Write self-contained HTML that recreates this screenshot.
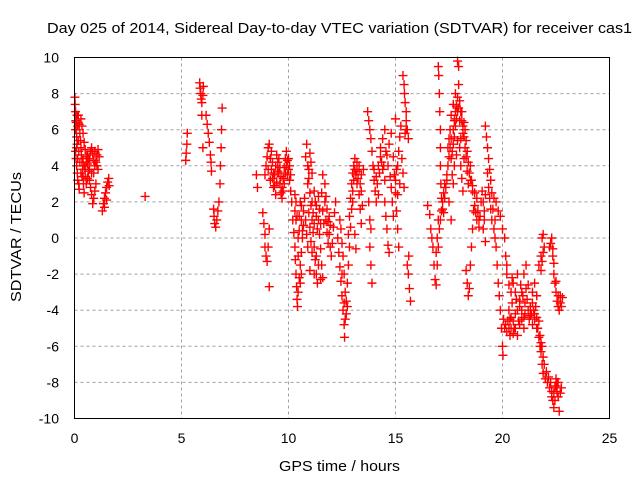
<!DOCTYPE html>
<html><head><meta charset="utf-8"><style>
body{margin:0;background:#fff;}
svg{display:block;font-family:"Liberation Sans",sans-serif;}
</style></head><body>
<svg id="chart" width="640" height="480" viewBox="0 0 640 480">
<rect width="640" height="480" fill="#fff"/>
<text x="47" y="33" font-size="15" textLength="585" lengthAdjust="spacingAndGlyphs">Day 025 of 2014, Sidereal Day-to-day VTEC variation (SDTVAR) for receiver cas1</text>
<text transform="translate(21,302) rotate(-90)" font-size="15" textLength="130" lengthAdjust="spacingAndGlyphs">SDTVAR / TECUs</text>
<text x="279" y="471" font-size="15" textLength="121" lengthAdjust="spacingAndGlyphs">GPS time / hours</text>
<g id="grid"></g>
<g id="ticks"></g>
<g id="points"></g>
<rect x="74.5" y="57.5" width="535" height="361" fill="none" stroke="#000" stroke-width="1"/>
</svg>
<script>
const xTicks=[0,5,10,15,20,25];
const yTicks=[-10,-8,-6,-4,-2,0,2,4,6,8,10];
const times=[0.02,0.03,0.05,0.06,0.08,0.1,0.12,0.05,0.07,0.1,0.13,0.15,0.2,0.22,0.18,0.22,0.25,0.28,0.3,0.32,0.35,0.38,0.4,0.42,0.45,0.3,0.35,0.4,0.45,0.5,0.55,0.6,0.65,0.7,0.75,0.8,0.85,0.9,0.95,1.0,0.7,0.75,0.8,0.85,0.9,0.95,1.0,1.05,1.1,1.15,0.6,0.55,0.5,
1.3,1.35,1.4,1.45,1.5,1.55,1.6,1.62,1.4,1.5,3.3,
5.2,5.22,5.25,5.27,5.85,5.87,5.9,5.92,5.95,6.0,6.02,5.95,6.0,
6.15,6.2,6.25,6.3,6.35,6.38,6.4,6.5,6.52,6.55,6.6,6.65,6.7,6.75,6.8,6.82,6.85,6.87,6.9,
8.5,8.55,8.8,8.85,8.9,8.9,8.95,9.0,9.05,9.1,9.1,8.9,8.95,9.0,9.05,9.1,9.15,9.2,9.25,9.3,9.35,9.4,9.45,9.5,9.55,9.6,9.65,9.7,9.75,9.8,9.85,9.9,9.95,10.0,10.05,10.1,10.15,
10.2,10.25,10.3,10.32,10.35,10.38,10.4,10.42,10.45,10.5,10.55,10.6,10.65,10.7,10.3,10.35,10.4,10.5,10.6,
10.8,10.85,10.9,10.95,11.0,11.05,11.1,11.15,11.2,11.25,11.3,11.35,11.0,11.1,11.2,11.3,11.4,11.45,11.5,11.55,11.6,
11.6,11.7,11.75,11.8,11.85,11.9,11.95,12.0,12.05,12.1,12.15,12.2,
12.3,12.35,12.4,12.45,12.5,12.55,12.6,12.62,12.65,12.7,12.75,12.8,12.85,12.9,12.95,13.0,13.05,
13.1,13.2,13.3,13.4,13.2,13.3,13.35,13.4,13.1,13.15,13.0,13.5,
13.7,13.75,13.8,13.85,13.9,13.95,14.0,13.75,13.8,13.85,13.8,13.85,13.9,14.0,14.1,14.2,
14.3,14.4,14.5,14.3,14.4,14.5,14.5,14.55,14.6,14.65,14.7,14.6,14.7,14.8,14.9,14.95,15.0,15.05,15.1,15.15,15.1,15.15,15.2,15.25,15.0,
15.35,15.4,15.42,15.45,15.5,15.5,15.55,15.6,15.55,15.6,15.65,15.7,15.62,
16.5,16.6,16.65,16.7,16.75,16.8,16.85,16.9,16.9,16.95,17.0,17.0,17.02,17.05,17.07,17.1,17.1,17.1,17.12,17.15,17.2,17.25,17.3,
17.4,17.45,17.5,17.55,17.6,17.7,17.75,17.8,17.85,17.9,17.9,17.95,17.95,18.0,18.0,18.05,18.1,18.15,17.5,17.6,17.7,18.1,18.15,18.2,18.25,18.3,18.35,18.4,18.3,18.35,18.4,18.45,18.5,18.55,18.6,18.65,
18.5,18.6,18.7,18.8,18.85,18.9,18.7,
19.2,19.25,19.3,19.35,19.4,19.45,19.5,19.1,19.15,19.2,
19.6,19.65,19.7,19.75,19.8,19.85,19.9,19.95,20.0,20.02,19.7,19.8,19.9,20.0,20.1,20.15,20.2,
20.3,20.35,20.4,20.5,20.6,20.7,20.8,20.9,21.0,20.5,20.6,20.7,20.8,20.9,21.0,21.1,21.05,21.2,
21.3,21.4,21.5,21.6,21.7,21.75,21.8,21.85,21.9,21.4,21.5,21.6,21.7,21.8,21.85,21.9,21.95,
22.0,22.1,22.2,22.3,22.35,22.4,22.45,22.5,22.55,22.6,22.2,22.25,22.3,22.35,22.4,22.45,22.5,22.55,22.6,22.65,22.7];
const values=[7.8,7.4,7.0,6.5,6.0,5.6,5.2,4.8,4.4,4.0,3.6,3.2,3.0,2.7,6.8,6.3,5.8,5.4,5.0,4.6,4.2,3.8,3.4,3.0,2.5,6.6,6.2,5.8,5.3,4.9,4.5,4.1,3.7,3.2,2.8,2.4,1.9,2.2,2.6,3.0,4.4,4.8,5.0,4.7,4.3,4.0,4.2,4.6,4.9,4.5,3.3,3.0,3.8,
1.5,1.9,2.2,2.5,2.8,3.1,3.3,2.9,1.7,2.1,2.3,
4.3,4.7,5.2,5.8,8.6,8.3,8.0,7.7,7.5,7.9,8.4,6.8,5.0,
6.8,6.3,5.8,5.3,4.6,4.2,3.7,1.6,1.2,0.8,0.6,1.0,1.5,2.0,3.0,4.0,5.0,6.0,7.2,
3.5,2.8,1.4,0.8,0.2,-0.5,-1.0,-1.3,-0.5,0.5,-2.7,3.5,4.0,4.5,5.0,5.2,4.4,3.8,3.3,2.8,3.5,4.0,4.6,4.2,3.6,3.0,2.5,2.8,3.3,3.9,4.4,4.8,4.3,3.8,3.2,2.6,2.0,
1.0,0.3,-0.5,-1.2,-2.0,-2.7,-3.4,-3.8,-3.0,-2.2,-1.5,-0.8,0,0.7,1.5,2.0,1.2,0.4,1.8,
4.5,5.2,4.0,3.3,2.5,1.8,1.0,0.3,-0.5,-1.2,-2.0,-2.5,4.7,3.6,2.6,1.8,1.0,0.2,-0.6,-1.5,-2.2,
3.5,3.0,2.3,1.6,0.9,0.2,-0.5,-1.0,-0.3,0.6,1.4,2.0,
0.0,-0.8,-1.6,-2.4,-3.2,-4.0,-4.8,-5.5,-4.5,-3.5,-2.5,-1.5,-0.5,0.6,1.6,2.6,3.2,
3.8,4.2,4.0,3.5,3.0,2.4,1.6,0.8,0.2,-0.6,2.0,3.8,
7.0,6.5,6.0,5.5,4.8,4.0,3.2,2.0,1.0,0.5,-0.5,-1.5,-2.5,3.8,3.4,4.0,
5.0,5.5,6.0,4.5,3.8,3.2,2.0,1.2,0.5,-0.4,-0.8,4.6,5.2,5.8,4.5,3.5,2.5,1.5,0.5,-0.5,4.0,4.8,5.6,6.2,6.6,
9.0,8.5,8.0,7.5,7.0,6.5,6.0,5.5,-1.5,-2.0,-2.8,-3.5,-1.0,
1.8,1.3,0.5,0.0,-0.5,-1.5,-2.3,-2.6,-0.8,0,1.0,9.5,9.0,8.0,7.0,6.0,5.0,4.0,3.0,2.2,1.6,2.5,3.0,
3.5,4.0,4.5,5.0,5.5,6.0,6.5,7.0,7.3,7.8,9.8,9.5,8.5,6.5,5.0,4.0,3.3,2.6,2.0,1.0,3.0,7.0,6.2,5.6,5.0,4.5,3.7,3.0,-1.8,-2.5,-3.2,-2.8,-1.5,-0.5,0.5,1.5,
3.2,2.9,2.5,2.2,1.5,1.0,1.8,
6.2,5.6,5.0,4.4,3.8,3.2,2.5,0.5,1.0,-0.2,
0.5,0,-0.5,-1.5,-2.5,-3.2,-4.0,-5.0,-6.0,-6.5,2.0,1.5,1.2,0.5,0,-1.0,-1.5,
-4.0,-4.5,-5.0,-5.3,-5.0,-5.4,-4.8,-4.5,-5.0,-2.5,-3.0,-2.0,-3.5,-3.0,-2.0,-1.5,-4.2,-4.0,
-4.3,-4.8,-4.5,-5.0,-5.5,-6.0,-6.3,-7.0,-7.5,-3.0,-2.5,-3.2,-1.5,-1.0,0,0.2,-0.5,
-7.8,-8.0,-8.3,-8.5,-9.0,-9.4,-9.0,-8.2,-8.5,-8.0,-0.5,-0.3,0,-1.0,-2.0,-2.5,-3.0,-3.5,-3.8,-4.0,-3.2];
const times2=[9.2,9.25,9.3,9.35,9.4,9.45,9.5,9.55,9.6,9.65,9.7,9.75,9.8,9.85,9.9,9.95,10.0,10.05,10.1,9.15,9.05,
10.3,10.35,10.45,10.5,10.55,10.6,10.65,10.7,10.75,10.8,10.85,10.9,10.95,11.0,11.05,11.1,11.15,11.2,11.25,11.3,11.35,11.4,11.45,11.5,11.55,11.6,11.65,11.7,11.75,11.8,11.85,11.9,11.95,10.45,10.55,10.6,11.4,11.5,11.2,11.1,10.9,10.95,11.05,11.0,11.3,
12.4,12.45,12.5,12.55,12.6,12.65,12.7,12.75,12.6,12.5,12.8,12.85,12.9,12.95,13.0,13.05,13.1,13.15,13.2,13.25,13.3,13.35,13.4,13.45,
14.05,14.1,14.15,14.2,14.25,14.35,14.45,14.55,14.65,14.75,14.8,14.85,14.9,15.0,15.05,15.1,15.2,15.3,15.35,15.4,15.45,15.5,
16.95,17.0,17.05,17.1,17.15,17.2,17.25,17.3,17.35,17.4,
17.45,17.5,17.55,17.6,17.65,17.7,17.75,17.8,17.85,17.9,17.95,18.0,18.05,18.1,18.15,18.2,18.25,18.3,18.35,18.4,18.45,18.5,18.55,18.6,17.9,17.85,17.75,17.65,18.05,18.2,17.6,17.7,17.8,
18.75,18.8,18.9,18.95,19.0,19.05,19.1,19.15,19.2,19.3,19.35,19.4,19.45,19.5,19.55,19.6,19.65,
20.05,20.1,20.15,20.2,20.25,20.3,20.35,20.4,20.45,20.5,20.55,20.6,20.65,20.7,20.75,20.8,20.85,20.9,20.95,21.0,21.05,21.1,21.15,21.2,20.2,20.3,20.4,20.45,
21.25,21.3,21.35,21.4,21.45,21.5,21.55,21.6,21.65,21.7,21.75,21.8,21.85,21.9,21.95,21.8,21.85,21.9,
22.05,22.15,22.25,22.3,22.4,22.45,22.5,22.55,22.6,22.65,22.7,22.75,22.35,22.4,22.5,22.6,22.7,22.75,22.8,
0.08,0.12,0.15,0.18,0.2,0.25,0.3,0.35,0.4,0.45,0.5,0.55,0.6,0.65,0.7,0.8,0.9,0.95,1.05,1.1,0.1,0.15,0.05];
const values2=[4.8,4.2,3.6,2.9,2.4,3.1,3.7,4.4,3.9,3.4,2.2,2.6,3.0,3.6,4.0,3.5,4.4,4.0,3.5,3.2,3.8,
2.4,1.0,0.0,1.2,2.0,1.0,0.4,1.5,2.2,1.0,0.2,-0.5,1.4,0.6,-0.2,2.0,1.4,0.8,2.0,1.2,0.5,2.3,1.6,0.8,2.5,1.5,0.8,2.0,1.0,0.3,-0.3,1.2,0.7,-1.0,-2.5,-2.0,-1.5,-2.3,-2.0,-0.8,3.0,3.8,4.2,-1.8,-1.0,
1.0,0.5,-0.3,-1.0,-2.0,-3.0,-4.2,-3.8,-3.6,-2.0,0.2,1.2,2.2,3.0,3.6,4.0,4.4,3.5,3.7,3.3,3.8,3.0,2.6,1.8,
2.6,2.0,3.0,2.4,3.6,4.2,4.0,4.8,4.0,3.4,2.8,2.0,1.2,3.2,3.8,2.4,3.0,4.4,3.6,2.8,5.8,6.0,
-1.5,-0.5,0.5,1.0,1.5,2.0,1.4,2.2,2.8,3.2,
5.0,5.5,6.0,4.4,4.8,5.2,5.6,6.2,6.6,7.0,7.2,7.6,7.0,6.5,5.8,6.4,6.0,5.4,4.8,4.2,3.6,4.0,3.2,2.6,5.4,4.6,4.0,3.5,5.5,4.4,6.8,7.4,8.0,
1.4,1.0,0.6,1.2,2.0,2.6,2.0,1.5,2.4,3.6,2.8,2.2,1.6,1.0,1.6,2.2,1.0,
-4.5,-5.0,-4.8,-5.2,-4.6,-5.0,-5.4,-4.4,-3.6,-4.6,-5.0,-4.2,-3.4,-4.0,-4.6,-3.8,-2.6,-4.0,-3.2,-4.4,-3.6,-2.8,-3.4,-2.6,-2.0,-2.6,-3.0,-2.2,
-4.5,-3.8,-4.2,-3.6,-4.0,-4.2,-3.8,-4.4,-5.0,-4.6,-5.4,-5.8,-6.0,-6.6,-7.0,-1.8,-1.3,-0.8,
-7.4,-7.7,-8.0,-8.8,-8.6,-8.2,-7.8,-8.0,-8.8,-9.6,-8.6,-8.3,-0.6,-1.4,-2.4,-3.2,-3.6,-3.8,-3.3,
6.4,6.8,6.2,5.4,4.8,4.2,3.6,3.4,4.4,4.0,3.4,4.2,4.6,4.4,3.8,3.6,3.6,4.8,4.0,3.8,5.0,4.4,6.0];
const X0=74.5,X1=609.5,Y0=418.5,Y1=57.5;
function xs(t){return X0+(t-0)/(25-0)*(X1-X0);}
function ys(v){return Y0-(v+10)/20*(Y0-Y1);}
const NS='http://www.w3.org/2000/svg';
const grid=document.getElementById('grid'),ticks=document.getElementById('ticks'),pts=document.getElementById('points');
function mk(tag,attrs,parent){const e=document.createElementNS(NS,tag);for(const k in attrs)e.setAttribute(k,attrs[k]);parent.appendChild(e);return e;}
xTicks.forEach(t=>{const x=xs(t);
 if(t>0&&t<25){const g=mk('line',{x1:x,x2:x,y1:Y1,y2:Y0,stroke:'#a0a0a0','stroke-dasharray':'3,3'},grid);
 
 }
 const l=mk('text',{x:x,y:443,'font-size':14,'text-anchor':'middle'},ticks);l.textContent=t;
 
 
});
yTicks.forEach(v=>{const y=ys(v);
 if(v>-10&&v<10){const g=mk('line',{x1:X0,x2:X1,y1:y,y2:y,stroke:'#a0a0a0','stroke-dasharray':'3,3'},grid);
 
 }
 const l=mk('text',{x:59,y:y+5,'font-size':14,'text-anchor':'end'},ticks);l.textContent=v;
 
 
});
let d='';
function addPts(ts,vs){for(let i=0;i<ts.length;i++){const x=xs(ts[i]),y=ys(vs[i]);
 d+=`M${x-4.5},${y}h9M${x},${y-4.5}v9`;}}
addPts(times,values);
addPts(times2,values2);
const p=mk('path',{d:d,stroke:'#ff0000','stroke-width':1.4,fill:'none'},pts);


</script>
</body></html>
